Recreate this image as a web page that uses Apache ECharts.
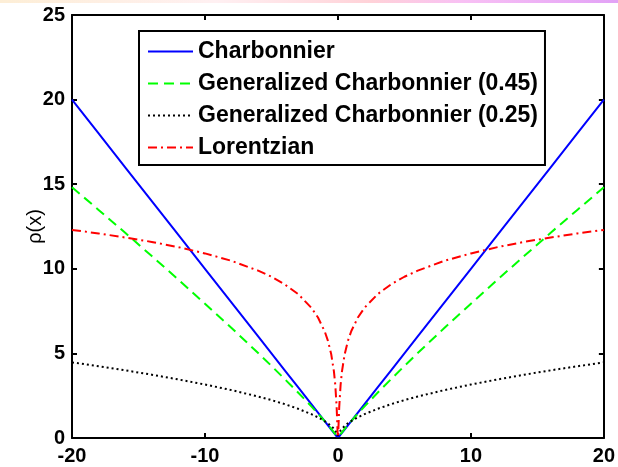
<!DOCTYPE html>
<html>
<head>
<meta charset="utf-8">
<style>
  html, body { margin: 0; padding: 0; background: #ffffff; }
  #chart { width: 618px; height: 467px; }
</style>
<script src="https://cdn.jsdelivr.net/npm/echarts@6/dist/echarts.min.js"></script>
</head>
<body>
<div id="chart"></div>
<script>
// Sample positions along x
const xs = [-20, -18, -16, -14, -12, -10, -8, -6, -5, -4, -3, -2, -1.5, -1, -0.75, -0.5, -0.3, -0.2, -0.1, -0.05, -0.02, -0.01,
  0, 0.01, 0.02, 0.05, 0.1, 0.2, 0.3, 0.5, 0.75, 1, 1.5, 2, 3, 4, 5, 6, 8, 10, 12, 14, 16, 18, 20];

// Penalty values rho(x) at each sample
const charbonnier = [20, 18, 16, 14, 12, 10, 8, 6, 5, 4, 3, 2, 1.5, 1, 0.75, 0.5, 0.3, 0.2, 0.1, 0.05, 0.02, 0.01,
  0.001, 0.01, 0.02, 0.05, 0.1, 0.2, 0.3, 0.5, 0.75, 1, 1.5, 2, 3, 4, 5, 6, 8, 10, 12, 14, 16, 18, 20];
const genCharb045 = [14.82, 13.48, 12.13, 10.75, 9.36, 7.94, 6.50, 5.02, 4.26, 3.48, 2.69, 1.87, 1.44, 1, 0.772, 0.536, 0.338, 0.235, 0.126, 0.0675, 0.0296, 0.0158,
  0.002, 0.0158, 0.0296, 0.0675, 0.126, 0.235, 0.338, 0.536, 0.772, 1, 1.44, 1.87, 2.69, 3.48, 4.26, 5.02, 6.50, 7.94, 9.36, 10.75, 12.13, 13.48, 14.82];
const genCharb025 = [4.47, 4.24, 4, 3.74, 3.46, 3.16, 2.83, 2.45, 2.24, 2, 1.73, 1.41, 1.22, 1, 0.866, 0.707, 0.548, 0.447, 0.316, 0.224, 0.141, 0.1,
  0.03, 0.1, 0.141, 0.224, 0.316, 0.447, 0.548, 0.707, 0.866, 1, 1.22, 1.41, 1.73, 2, 2.24, 2.45, 2.83, 3.16, 3.46, 3.74, 4, 4.24, 4.47];
const lorentzian = [12.30, 12.09, 11.85, 11.59, 11.28, 10.91, 10.47, 9.89, 9.53, 9.08, 8.51, 7.70, 7.12, 6.31, 5.74, 4.93, 3.92, 3.14, 1.87, 0.86, 0.20, 0.05,
  0, 0.05, 0.20, 0.86, 1.87, 3.14, 3.92, 4.93, 5.74, 6.31, 7.12, 7.70, 8.51, 9.08, 9.53, 9.89, 10.47, 10.91, 11.28, 11.59, 11.85, 12.09, 12.30];

const seriesNames = ['Charbonnier', 'Generalized Charbonnier (0.45)', 'Generalized Charbonnier (0.25)', 'Lorentzian'];
const xTicks = { min: -20, max: 20, interval: 10 };
const yTicks = { min: 0, max: 25, interval: 5 };

const FONT = "'Liberation Sans', Arial, Helvetica, sans-serif";

function pairs(ys) {
  return xs.map((x, i) => [x, ys[i]]);
}

const chart = echarts.init(document.getElementById('chart'), null, { renderer: 'canvas' });

const boxAxisLine = { show: true, onZero: false, lineStyle: { color: '#000', width: 2 } };
const boxTick = { show: true, inside: true, length: 5, lineStyle: { color: '#000', width: 2 } };

function lineSeries(name, ys, color, dash) {
  return {
    name: name,
    type: 'line',
    data: pairs(ys),
    symbol: 'none',
    smooth: false,
    animation: false,
    lineStyle: { color: color, width: 2, type: dash, cap: 'butt' },
    itemStyle: { color: color }
  };
}

chart.setOption({
  backgroundColor: '#ffffff',
  animation: false,
  textStyle: { fontFamily: FONT },
  graphic: [{
    type: 'rect',
    left: 0, top: 0,
    shape: { width: 618, height: 3 },
    style: {
      fill: new echarts.graphic.LinearGradient(0, 0, 1, 0, [
        { offset: 0, color: '#fdeed6' },
        { offset: 0.35, color: '#fff0f2' },
        { offset: 0.6, color: '#ffd2d8' },
        { offset: 0.75, color: '#f8c0f4' },
        { offset: 1, color: '#e2a2f6' }
      ])
    },
    silent: true
  }],
  grid: { left: 72, right: 13, top: 15, bottom: 29, containLabel: false },
  legend: {
    data: seriesNames,
    orient: 'vertical',
    left: 139,
    top: 31,
    itemWidth: 45,
    itemHeight: 12,
    itemGap: 9,
    padding: [9, 7, 6, 8],
    backgroundColor: '#ffffff',
    borderColor: '#000',
    borderWidth: 2,
    borderRadius: 0,
    itemStyle: { color: 'transparent', borderWidth: 0, opacity: 0 },
    textStyle: { fontFamily: FONT, fontSize: 23, fontWeight: 'bold', color: '#000', width: 340, padding: [0, 0, 0, 0] },
    selectedMode: false
  },
  xAxis: [{
    type: 'value',
    position: 'bottom',
    min: xTicks.min, max: xTicks.max, interval: xTicks.interval,
    axisLine: boxAxisLine,
    axisTick: boxTick,
    splitLine: { show: false },
    axisLabel: { color: '#000', fontSize: 20, fontWeight: 'bold', fontFamily: FONT, margin: 8 }
  }, {
    type: 'value',
    position: 'top',
    min: xTicks.min, max: xTicks.max, interval: xTicks.interval,
    axisLine: boxAxisLine,
    axisTick: boxTick,
    splitLine: { show: false },
    axisLabel: { show: false }
  }],
  yAxis: [{
    type: 'value',
    position: 'left',
    min: yTicks.min, max: yTicks.max, interval: yTicks.interval,
    name: 'ρ(x)',
    nameLocation: 'middle',
    nameGap: 27,
    nameMoveOverlap: false,
    nameTextStyle: { color: '#000', fontSize: 20, fontFamily: FONT },
    axisLine: boxAxisLine,
    axisTick: boxTick,
    splitLine: { show: false },
    axisLabel: { color: '#000', fontSize: 20, fontWeight: 'bold', fontFamily: FONT, margin: 7 }
  }, {
    type: 'value',
    position: 'right',
    min: yTicks.min, max: yTicks.max, interval: yTicks.interval,
    axisLine: boxAxisLine,
    axisTick: boxTick,
    splitLine: { show: false },
    axisLabel: { show: false }
  }],
  series: [
    lineSeries(seriesNames[0], charbonnier, '#0000ff', 'solid'),
    lineSeries(seriesNames[1], genCharb045, '#00ff00', [10, 6]),
    lineSeries(seriesNames[2], genCharb025, '#000000', [2, 3]),
    lineSeries(seriesNames[3], lorentzian, '#ff0000', [9, 4, 2, 4])
  ]
});
</script>
</body>
</html>
